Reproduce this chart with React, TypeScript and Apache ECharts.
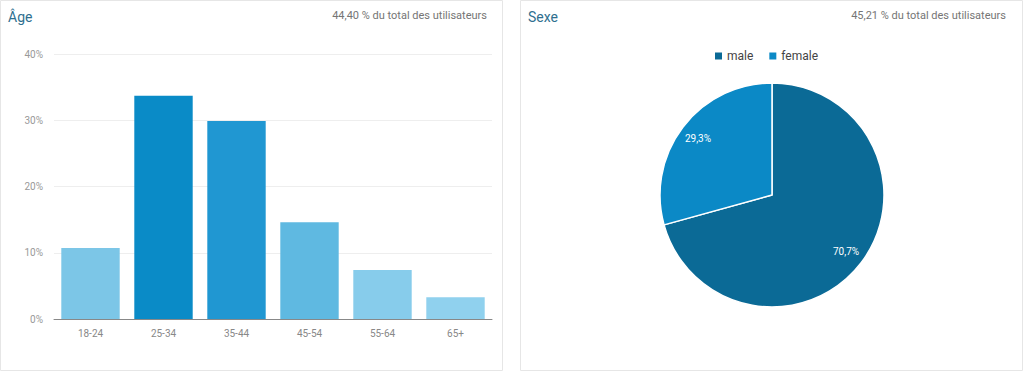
import React, { useEffect, useRef } from "react";
import * as echarts from "echarts";

const ageCategories = ["18-24", "25-34", "35-44", "45-54", "55-64", "65+"];
const ageValues = [10.7, 33.7, 29.9, 14.6, 7.4, 3.3];
const ageColors = ["#7cc6e7", "#0a8bc7", "#2097d2", "#5fb9e1", "#87cceb", "#90d1ee"];
const yTicks = [0, 10, 20, 30, 40];
const genderNames = ["male", "female"];
const genderValues = [70.7, 29.3];
const genderColors = ["#0b6a96", "#0b89c6"];
const ageTitle = "Âge";
const ageSubtitle = "44,40 % du total des utilisateurs";
const sexTitle = "Sexe";
const sexSubtitle = "45,21 % du total des utilisateurs";

const FONT = "Roboto, 'Noto Sans', sans-serif";

export default function App() {
  const ref = useRef<HTMLDivElement>(null);
  useEffect(() => {
    if (!ref.current) return;
    const chart = echarts.init(ref.current, null, { renderer: "svg" });
    const pieData = genderNames.map((n, i) => ({
      name: n,
      value: genderValues[i],
      itemStyle: { color: genderColors[i] },
    }));
    chart.setOption({
      animation: false,
      backgroundColor: "#ffffff",
      textStyle: { fontFamily: FONT },
      graphic: [
        {
          type: "rect",
          shape: { x: 0.5, y: 0.5, width: 502, height: 370 },
          style: { fill: "#ffffff", stroke: "#e6e6e6", lineWidth: 1 },
          z: -10,
        },
        {
          type: "rect",
          shape: { x: 520.5, y: 0.5, width: 502, height: 370 },
          style: { fill: "#ffffff", stroke: "#e6e6e6", lineWidth: 1 },
          z: -10,
        },
      ],
      title: [
        {
          text: ageTitle,
          left: 3,
          top: 5,
          textStyle: { fontSize: 14, color: "#2f6f8f", fontWeight: "normal", fontFamily: FONT },
        },
        {
          text: ageSubtitle,
          right: 1024 - 492,
          top: 5,
          textStyle: { fontSize: 11, color: "#757575", fontWeight: "normal", fontFamily: FONT },
        },
        {
          text: sexTitle,
          left: 523,
          top: 5,
          textStyle: { fontSize: 14, color: "#2f6f8f", fontWeight: "normal", fontFamily: FONT },
        },
        {
          text: sexSubtitle,
          right: 1024 - 1011,
          top: 5,
          textStyle: { fontSize: 11, color: "#757575", fontWeight: "normal", fontFamily: FONT },
        },
      ],
      legend: {
        data: genderNames,
        left: 708,
        top: 45,
        icon: "rect",
        itemWidth: 9,
        itemHeight: 9,
        itemGap: 14,
        textStyle: { fontSize: 12, color: "#444", fontFamily: FONT, padding: [0, 0, 0, -1] },
        selectedMode: false,
      },
      grid: { left: 54, top: 54, width: 438, height: 265 },
      xAxis: {
        type: "category",
        data: ageCategories,
        axisTick: { show: false },
        axisLine: { lineStyle: { color: "#888", width: 1 } },
        axisLabel: { color: "#888", fontSize: 10, margin: 9, fontFamily: FONT },
      },
      yAxis: {
        type: "value",
        min: yTicks[0],
        max: yTicks[yTicks.length - 1],
        interval: 10,
        axisLine: { show: false },
        axisTick: { show: false },
        splitLine: { lineStyle: { color: "#eeeeee" } },
        axisLabel: { color: "#999", fontSize: 10, margin: 11, formatter: "{value}%", fontFamily: FONT },
      },
      series: [
        {
          type: "bar",
          barCategoryGap: "20%",
          data: ageValues.map((v, i) => ({ value: v, itemStyle: { color: ageColors[i] } })),
        },
        {
          type: "pie",
          center: [772, 195],
          radius: [0, 112],
          data: pieData,
          label: { show: false },
          labelLine: { show: false },
          itemStyle: { borderColor: "#ffffff", borderWidth: 1.5 },
          silent: true,
        },
        {
          type: "pie",
          center: [772, 195],
          radius: [68, 112],
          data: genderNames.map((n, i) => ({
            name: n,
            value: genderValues[i],
            itemStyle: { color: "rgba(0,0,0,0)" },
          })),
          label: {
            show: true,
            position: "inside",
            color: "#ffffff",
            fontSize: 10,
            fontFamily: FONT,
            formatter: (p: any) => p.value.toFixed(1).replace(".", ",") + "%",
          },
          labelLine: { show: false },
          itemStyle: { borderWidth: 0 },
          silent: true,
          z: 3,
        },
      ],
    });
    return () => chart.dispose();
  }, []);
  return (
    <div
      ref={ref}
      style={{ position: "absolute", left: 0, top: 0, width: 1024, height: 374 }}
    />
  );
}
